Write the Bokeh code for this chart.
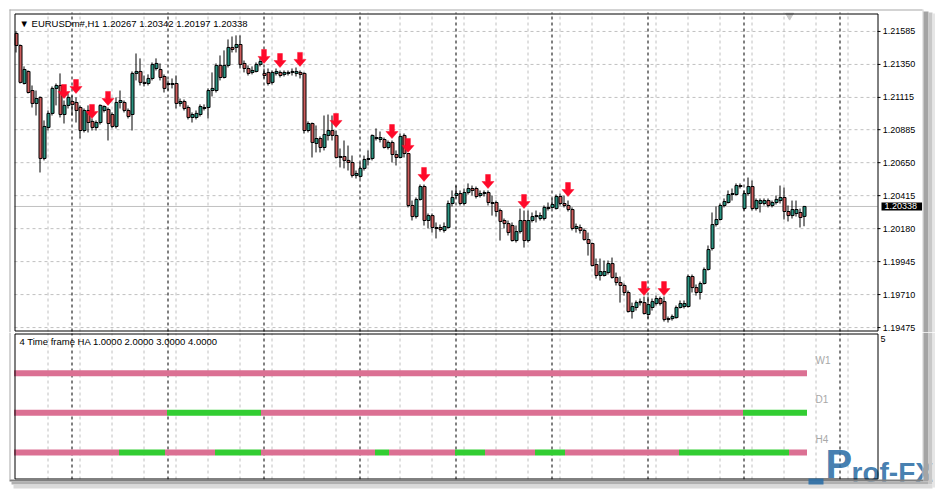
from bokeh.plotting import figure
from bokeh.layouts import column
from bokeh.models import Range1d, Label, BoxAnnotation, ColumnDataSource
from bokeh.core.properties import value
from bokeh.embed import file_html
from bokeh.resources import INLINE

# ---------------- data ----------------
symbol = "EURUSDm#,H1"
opens = [1.21571, 1.21485, 1.21214, 1.21300, 1.21164, 1.21072, 1.21115, 1.20680, 1.20901, 1.21001,
         1.21179, 1.21200, 1.20993, 1.21058, 1.21086, 1.21079, 1.21043, 1.20879, 1.21022, 1.20944,
         1.20901, 1.20936, 1.21022, 1.21029, 1.20993, 1.20908, 1.21079, 1.21079, 1.21022, 1.20993,
         1.21286, 1.21300, 1.21222, 1.21214, 1.21250, 1.21321, 1.21314, 1.21264, 1.21214, 1.21207,
         1.21214, 1.21072, 1.21086, 1.21043, 1.20972, 1.20972, 1.20993, 1.21043, 1.21043, 1.21164,
         1.21164, 1.21343, 1.21257, 1.21343, 1.21471, 1.21471, 1.21492, 1.21357, 1.21321, 1.21293,
         1.21300, 1.21350, 1.21286, 1.21293, 1.21222, 1.21286, 1.21293, 1.21279, 1.21286, 1.21293,
         1.21286, 1.21293, 1.21286, 1.20879, 1.20929, 1.20787, 1.20822, 1.20758, 1.20844, 1.20879,
         1.20844, 1.20694, 1.20694, 1.20666, 1.20651, 1.20559, 1.20552, 1.20609, 1.20673, 1.20680,
         1.20829, 1.20815, 1.20815, 1.20758, 1.20794, 1.20708, 1.20687, 1.20844, 1.20715, 1.20345,
         1.20266, 1.20388, 1.20480, 1.20238, 1.20273, 1.20188, 1.20188, 1.20167, 1.20188, 1.20359,
         1.20416, 1.20430, 1.20359, 1.20437, 1.20466, 1.20466, 1.20416, 1.20430, 1.20437, 1.20366,
         1.20366, 1.20309, 1.20238, 1.20216, 1.20202, 1.20095, 1.20159, 1.20238, 1.20095, 1.20238,
         1.20266, 1.20252, 1.20252, 1.20331, 1.20331, 1.20323, 1.20409, 1.20359, 1.20345, 1.20316,
         1.20181, 1.20188, 1.20167, 1.20102, 1.20074, 1.19924, 1.19846, 1.19846, 1.19867, 1.19931,
         1.19832, 1.19796, 1.19775, 1.19725, 1.19589, 1.19618, 1.19653, 1.19653, 1.19568, 1.19618,
         1.19646, 1.19682, 1.19660, 1.19539, 1.19539, 1.19546, 1.19618, 1.19625, 1.19625, 1.19839,
         1.19760, 1.19725, 1.19789, 1.19889, 1.20038, 1.20209, 1.20245, 1.20345, 1.20366, 1.20423,
         1.20423, 1.20487, 1.20323, 1.20430, 1.20480, 1.20323, 1.20359, 1.20359, 1.20380, 1.20345,
         1.20366, 1.20380, 1.20402, 1.20302, 1.20273, 1.20288, 1.20295, 1.20267]
highs = [1.21585, 1.21492, 1.21336, 1.21307, 1.21200, 1.21164, 1.21122, 1.20951, 1.21022, 1.21193,
         1.21214, 1.21286, 1.21093, 1.21143, 1.21129, 1.21115, 1.21058, 1.21036, 1.21058, 1.20965,
         1.20951, 1.21065, 1.21058, 1.21043, 1.21008, 1.21115, 1.21164, 1.21093, 1.21036, 1.21300,
         1.21428, 1.21393, 1.21271, 1.21279, 1.21364, 1.21393, 1.21357, 1.21279, 1.21236, 1.21250,
         1.21271, 1.21107, 1.21100, 1.21058, 1.21008, 1.21022, 1.21065, 1.21065, 1.21179, 1.21293,
         1.21357, 1.21414, 1.21450, 1.21528, 1.21549, 1.21557, 1.21557, 1.21378, 1.21343, 1.21336,
         1.21364, 1.21393, 1.21321, 1.21321, 1.21307, 1.21321, 1.21307, 1.21307, 1.21307, 1.21321,
         1.21328, 1.21307, 1.21293, 1.20944, 1.20936, 1.20915, 1.20837, 1.20986, 1.20993, 1.20986,
         1.20879, 1.20751, 1.20808, 1.20772, 1.20701, 1.20594, 1.20651, 1.20701, 1.20737, 1.20851,
         1.20894, 1.20872, 1.20829, 1.20808, 1.20808, 1.20737, 1.20858, 1.20858, 1.20715, 1.20380,
         1.20402, 1.20494, 1.20494, 1.20288, 1.20288, 1.20224, 1.20209, 1.20224, 1.20380, 1.20452,
         1.20487, 1.20452, 1.20466, 1.20502, 1.20487, 1.20480, 1.20452, 1.20452, 1.20452, 1.20416,
         1.20380, 1.20323, 1.20252, 1.20238, 1.20224, 1.20202, 1.20323, 1.20309, 1.20309, 1.20295,
         1.20309, 1.20295, 1.20345, 1.20366, 1.20395, 1.20423, 1.20430, 1.20416, 1.20380, 1.20331,
         1.20216, 1.20209, 1.20181, 1.20152, 1.20081, 1.19967, 1.19967, 1.19953, 1.19953, 1.19974,
         1.19867, 1.19839, 1.19789, 1.19739, 1.19653, 1.19668, 1.19682, 1.19696, 1.19696, 1.19682,
         1.19703, 1.19696, 1.19696, 1.19554, 1.19568, 1.19632, 1.19668, 1.19668, 1.19853, 1.19853,
         1.19782, 1.19803, 1.19903, 1.20060, 1.20295, 1.20338, 1.20359, 1.20395, 1.20452, 1.20466,
         1.20502, 1.20502, 1.20452, 1.20544, 1.20523, 1.20395, 1.20395, 1.20395, 1.20395, 1.20380,
         1.20416, 1.20487, 1.20473, 1.20345, 1.20380, 1.20380, 1.20323, 1.20342]
lows = [1.21435, 1.21214, 1.21207, 1.21143, 1.21043, 1.20986, 1.20580, 1.20666, 1.20879, 1.20986,
        1.21058, 1.20972, 1.20929, 1.21036, 1.20986, 1.20936, 1.20822, 1.20865, 1.20865, 1.20879,
        1.20879, 1.20922, 1.21008, 1.20808, 1.20894, 1.20894, 1.21036, 1.21008, 1.20965, 1.20879,
        1.21236, 1.21200, 1.21193, 1.21200, 1.21236, 1.21307, 1.21236, 1.21150, 1.21164, 1.21179,
        1.21036, 1.21050, 1.21022, 1.20958, 1.20936, 1.20958, 1.20979, 1.21022, 1.20965, 1.21122,
        1.21150, 1.21236, 1.21250, 1.21328, 1.21435, 1.21435, 1.21321, 1.21293, 1.21271, 1.21279,
        1.21293, 1.21336, 1.21250, 1.21200, 1.21207, 1.21271, 1.21257, 1.21264, 1.21271, 1.21271,
        1.21264, 1.21250, 1.20858, 1.20865, 1.20687, 1.20723, 1.20723, 1.20737, 1.20808, 1.20808,
        1.20680, 1.20616, 1.20609, 1.20594, 1.20544, 1.20537, 1.20537, 1.20594, 1.20630, 1.20666,
        1.20808, 1.20794, 1.20751, 1.20744, 1.20651, 1.20630, 1.20680, 1.20687, 1.20331, 1.20238,
        1.20252, 1.20380, 1.20202, 1.20181, 1.20152, 1.20110, 1.20159, 1.20152, 1.20181, 1.20338,
        1.20395, 1.20345, 1.20345, 1.20423, 1.20416, 1.20395, 1.20402, 1.20409, 1.20345, 1.20273,
        1.20266, 1.20095, 1.20181, 1.20131, 1.20088, 1.20081, 1.20145, 1.20045, 1.20081, 1.20224,
        1.20224, 1.20238, 1.20238, 1.20309, 1.20323, 1.20316, 1.20345, 1.20331, 1.20302, 1.20167,
        1.20152, 1.20145, 1.20095, 1.19988, 1.19910, 1.19824, 1.19810, 1.19839, 1.19853, 1.19824,
        1.19775, 1.19653, 1.19703, 1.19582, 1.19539, 1.19596, 1.19632, 1.19568, 1.19539, 1.19596,
        1.19632, 1.19632, 1.19518, 1.19511, 1.19525, 1.19539, 1.19611, 1.19611, 1.19618, 1.19725,
        1.19703, 1.19675, 1.19782, 1.19881, 1.20024, 1.20195, 1.20238, 1.20331, 1.20359, 1.20380,
        1.20416, 1.20466, 1.20309, 1.20416, 1.20309, 1.20309, 1.20295, 1.20345, 1.20331, 1.20331,
        1.20352, 1.20359, 1.20245, 1.20231, 1.20252, 1.20266, 1.20188, 1.20197]
closes = [1.21485, 1.21222, 1.21314, 1.21150, 1.21072, 1.21107, 1.20680, 1.20908, 1.21001, 1.21179,
          1.21200, 1.20993, 1.21058, 1.21115, 1.21065, 1.21022, 1.20879, 1.21022, 1.20936, 1.20901,
          1.20936, 1.21058, 1.21050, 1.20929, 1.20908, 1.21079, 1.21093, 1.21022, 1.20979, 1.21286,
          1.21300, 1.21222, 1.21214, 1.21250, 1.21350, 1.21357, 1.21257, 1.21179, 1.21207, 1.21214,
          1.21072, 1.21086, 1.21036, 1.20972, 1.20993, 1.21001, 1.21050, 1.21036, 1.21164, 1.21179,
          1.21343, 1.21257, 1.21343, 1.21471, 1.21457, 1.21492, 1.21350, 1.21321, 1.21286, 1.21307,
          1.21350, 1.21371, 1.21271, 1.21214, 1.21293, 1.21300, 1.21271, 1.21293, 1.21293, 1.21300,
          1.21300, 1.21279, 1.20879, 1.20929, 1.20794, 1.20822, 1.20758, 1.20851, 1.20879, 1.20844,
          1.20687, 1.20687, 1.20666, 1.20651, 1.20559, 1.20573, 1.20609, 1.20673, 1.20680, 1.20844,
          1.20822, 1.20829, 1.20758, 1.20794, 1.20708, 1.20687, 1.20837, 1.20715, 1.20345, 1.20266,
          1.20388, 1.20480, 1.20238, 1.20273, 1.20188, 1.20181, 1.20174, 1.20195, 1.20359, 1.20402,
          1.20430, 1.20359, 1.20437, 1.20466, 1.20452, 1.20409, 1.20430, 1.20437, 1.20366, 1.20359,
          1.20302, 1.20231, 1.20216, 1.20152, 1.20095, 1.20159, 1.20238, 1.20095, 1.20238, 1.20266,
          1.20273, 1.20273, 1.20331, 1.20323, 1.20352, 1.20409, 1.20359, 1.20345, 1.20316, 1.20181,
          1.20195, 1.20167, 1.20102, 1.20074, 1.19917, 1.19846, 1.19874, 1.19874, 1.19931, 1.19832,
          1.19796, 1.19775, 1.19725, 1.19589, 1.19625, 1.19653, 1.19660, 1.19575, 1.19639, 1.19660,
          1.19682, 1.19646, 1.19532, 1.19532, 1.19554, 1.19618, 1.19646, 1.19646, 1.19839, 1.19760,
          1.19725, 1.19789, 1.19889, 1.20031, 1.20209, 1.20245, 1.20345, 1.20373, 1.20423, 1.20430,
          1.20487, 1.20480, 1.20430, 1.20480, 1.20323, 1.20380, 1.20380, 1.20380, 1.20345, 1.20366,
          1.20388, 1.20402, 1.20302, 1.20273, 1.20316, 1.20316, 1.20259, 1.20338]

arrow_bars = [12, 15, 19, 23, 62, 66, 71, 80, 94, 98, 102, 118, 127, 138, 157, 162]
arrow_prices = [1.21107, 1.21143, 1.20965, 1.21058, 1.21357, 1.21328, 1.21336, 1.20901,
                1.20822, 1.20723, 1.20516, 1.20466, 1.20323, 1.20409, 1.19703, 1.19703]

price_ticks = [1.19475, 1.19710, 1.19945, 1.20180, 1.20415, 1.20650, 1.20885, 1.21115, 1.21350, 1.21585]
grid_bars = [8, 16, 24, 32, 40, 48, 56, 64, 72, 80, 88, 96, 104, 112, 120, 128, 136, 144,
             152, 160, 168, 176, 184, 192, 200, 208]
separator_bars = [14, 38, 62, 86, 110, 134, 158, 182, 206]
shift_marker_bar = 193.4

ind_name = "4 Time frame HA"
ind_values = [1.0, 2.0, 3.0, 4.0]
ind_scale_max = 5
tf_labels = ["H4", "D1", "W1"]
tf_rows = [2, 3, 4]
w1_edges = [-0.5, 197.75]
w1_states = [0]
d1_edges = [-0.5, 37.75, 61.25, 181.75, 197.75]
d1_states = [0, 1, 0, 1]
h4_edges = [-0.5, 25.75, 37.25, 49.75, 61.25, 89.75, 93.25, 109.75, 117.25, 129.75,
            137.25, 165.75, 193.25, 197.75]
h4_states = [0, 1, 0, 1, 0, 1, 0, 1, 0, 1, 0, 1, 0]

logo_text = ["P", "rof-FX"]

# ---------------- style / geometry ----------------
FONT = "Liberation Sans"
BULL = "#2b9482"
BEAR = "#cd5c5c"
PINK = "#db7093"
GREEN = "#32cd32"
ARROW = "#ff0a2a"
GRID = "#c0c0c0"
LOGO = "#2e6fa6"

W = 935
PX_PER_BAR = 4.0
BAR0_PX = 15.5                      # page x of bar 0
XA = -BAR0_PX / PX_PER_BAR          # data x at canvas left
XB = XA + W / PX_PER_BAR
XL = (14 - BAR0_PX) / PX_PER_BAR    # chart pane left edge
XR = (877 - BAR0_PX) / PX_PER_BAR   # chart pane right edge

# main pane: canvas 0..332, price pane rows 12..331
MAIN_H = 332
YT, YB = 1.21720, 1.19447
KY = (YT - YB) / (331 - 12)
MY0, MY1 = YB - (MAIN_H - 331) * KY, YT + 12 * KY

# indicator pane: canvas 0..158 (page 332..490), rows 1..147
IND_H = 158
IT, IB = 5.0, 1.32
KI = (IT - IB) / 146
IY0, IY1 = IB - (IND_H - 147) * KI, IT + 1 * KI


def cbox(fig, l, t, r, b, fill=None, line=None, alpha=1.0):
    fig.add_layout(BoxAnnotation(left=l, right=r, top=t, bottom=b, left_units="canvas",
                                 right_units="canvas", top_units="canvas", bottom_units="canvas",
                                 fill_color=fill if fill else "white", fill_alpha=alpha if fill else 0.0,
                                 line_color=line, line_alpha=1.0, line_width=1, level="overlay"))


def make_fig(h, y0, y1):
    f = figure(width=W, height=h, x_range=Range1d(XA, XB), y_range=Range1d(y0, y1),
               output_backend="svg", toolbar_location=None, title=None,
               x_axis_location=None, y_axis_location=None,
               min_border_left=0, min_border_right=0, min_border_top=0, min_border_bottom=0)
    f.background_fill_color = "white"
    f.border_fill_color = "white"
    f.outline_line_color = None
    f.xgrid.visible = False
    f.ygrid.visible = False
    return f


def vgrids(fig, y0, y1):
    fig.segment(x0=grid_bars, x1=grid_bars, y0=[y0] * len(grid_bars), y1=[y1] * len(grid_bars),
                line_color=GRID, line_width=1, line_dash="3 3")
    fig.segment(x0=separator_bars, x1=separator_bars, y0=[y0] * len(separator_bars),
                y1=[y1] * len(separator_bars), line_color="black", line_width=1, line_dash="3 3")


# ---------------- main chart ----------------
p = make_fig(MAIN_H, MY0, MY1)
nt = len(price_ticks)
p.segment(x0=[XL] * nt, x1=[XR] * nt, y0=price_ticks, y1=price_ticks,
          line_color=GRID, line_width=1, line_dash="3 3")
vgrids(p, YB, YT)
p.segment(x0=[XL], x1=[XR], y0=[closes[-1]], y1=[closes[-1]], line_color=GRID, line_width=1)

# price scale
p.segment(x0=[XR] * nt, x1=[XR + 0.75] * nt, y0=price_ticks, y1=price_ticks,
          line_color="black", line_width=1)
p.text(x=[XR + 1.3] * nt, y=price_ticks, text=[f"{t:.5f}" for t in price_ticks],
       text_font=value(FONT), text_font_size="9px", text_color="black",
       text_baseline="middle", text_align="left")

n = len(closes)
bars = list(range(n))
src = ColumnDataSource(dict(
    x=bars,
    xb=[b + 0.125 for b in bars],
    high=highs, low=lows,
    top=[max(o, c) for o, c in zip(opens, closes)],
    bottom=[min(o, c) for o, c in zip(opens, closes)],
    color=[BULL if c >= o else BEAR for o, c in zip(opens, closes)],
))
p.segment(x0="x", y0="high", x1="x", y1="low", source=src, line_color="black", line_width=1)
p.vbar(x="xb", width=0.75, top="top", bottom="bottom", source=src,
       fill_color="color", line_color="black", line_width=1)

# arrows (pixel geometry converted to data units)
axs, ays = [], []
for b, t in zip(arrow_bars, arrow_prices):
    axs.append([b - 0.6, b + 0.6, b + 0.6, b + 1.5, b, b - 1.5, b - 0.6])
    ays.append([t + 14 * KY, t + 14 * KY, t + 7 * KY, t + 7 * KY, t, t + 7 * KY, t + 7 * KY])
p.patches(xs=axs, ys=ays, fill_color=ARROW, line_color=ARROW, line_width=0.5)

p.scatter(x=[shift_marker_bar], y=[YT - 3 * KY], marker="inverted_triangle", size=8,
          fill_color="#c8c8c8", line_color="#c8c8c8")

hdr = "\u25bc " + symbol + "  " + " ".join(f"{v:.5f}" for v in (opens[-1], highs[-1], lows[-1], closes[-1]))
p.add_layout(Label(x=19, y=23, x_units="canvas", y_units="canvas", text=hdr,
                   text_font=FONT, text_font_size="9.5px", text_color="black",
                   text_baseline="middle", text_align="left"))

# current price box on the price scale
kwp = dict(x=881, x_units="canvas", y=closes[-1], y_units="data",
           text=f"{closes[-1]:.5f}", text_font=FONT, text_font_size="9px",
           text_color="white", background_fill_color="black", background_fill_alpha=1.0,
           text_baseline="middle", text_align="left")
try:
    p.add_layout(Label(padding=dict(left=3, right=5, top=1, bottom=1), **kwp))
except Exception:
    p.add_layout(Label(padding=3, **kwp))

# pane frame + window edges / shadow
cbox(p, 14.5, 13.5, 877.5, 330.5, line="black")
cbox(p, 9, 9, 922, 10, "#a8a8a8")
cbox(p, 9, 9, 10, MAIN_H, "#a8a8a8")
cbox(p, 922, 9, 923, MAIN_H, "#d0d0d0")
cbox(p, 923, 11, 928, MAIN_H, "#a4a4a4")
cbox(p, 928, 12, 932, MAIN_H, "#c8c8c8")
cbox(p, 932, 13, 935, MAIN_H, "#e6e6e6")

# ---------------- indicator ----------------
q = make_fig(IND_H, IY0, IY1)
q.x_range = p.x_range
vgrids(q, IB, IT)

sx0, sx1, sy, sc = [], [], [], []
for row, edges, states in [(4, w1_edges, w1_states), (3, d1_edges, d1_states), (2, h4_edges, h4_states)]:
    for i, s in enumerate(states):
        sx0.append(edges[i]); sx1.append(edges[i + 1]); sy.append(row)
        sc.append(GREEN if s else PINK)
q.segment(x0=sx0, y0=sy, x1=sx1, y1=sy, line_color=sc, line_width=6, line_cap="butt")

q.text(x=[199.9] * len(tf_labels), y=[r + 0.33 for r in tf_rows], text=tf_labels,
       text_font=value(FONT), text_font_size="10px", text_color="#a8a8a8",
       text_baseline="middle", text_align="left")

ind_hdr = ind_name + " " + " ".join(f"{v:.4f}" for v in ind_values)
q.add_layout(Label(x=19, y=9, x_units="canvas", y_units="canvas", text=ind_hdr,
                   text_font=FONT, text_font_size="9.5px", text_color="black",
                   text_baseline="middle", text_align="left"))
q.add_layout(Label(x=880, x_units="canvas", y=3, y_units="canvas",
                   text=str(ind_scale_max), text_font=FONT, text_font_size="9px",
                   text_color="black", text_baseline="top", text_align="left"))

cbox(q, 14.5, 1.5, 877.5, 146.5, line="black")
cbox(q, 9, 0, 10, 147, "#a8a8a8")
cbox(q, 922, 0, 923, 147, "#d0d0d0")
cbox(q, 923, 0, 928, 149, "#a4a4a4")
cbox(q, 928, 0, 932, 152, "#c8c8c8")
cbox(q, 932, 0, 935, 155, "#e6e6e6")
cbox(q, 9, 147, 923, 149, "#808080")
cbox(q, 11, 149, 928, 152, "#b0b0b0")
cbox(q, 13, 152, 932, 156, "#dadada")

# logo (watermark, bottom right)
cbox(q, 808, 146, 823, 152, fill=LOGO, alpha=0.9)
q.add_layout(Label(x=825, y=131, x_units="canvas", y_units="canvas", text=logo_text[0],
                   text_font=FONT, text_font_style="bold", text_font_size="40px",
                   text_color=LOGO, text_alpha=0.9, text_baseline="middle", text_align="left"))
q.add_layout(Label(x=851, y=140, x_units="canvas", y_units="canvas", text=logo_text[1],
                   text_font=FONT, text_font_style="bold", text_font_size="28px",
                   text_color=LOGO, text_alpha=0.9, text_baseline="middle", text_align="left"))

layout = column(p, q, spacing=0)
open("out.html", "w").write(file_html(layout, INLINE, title="EURUSD H1"))
